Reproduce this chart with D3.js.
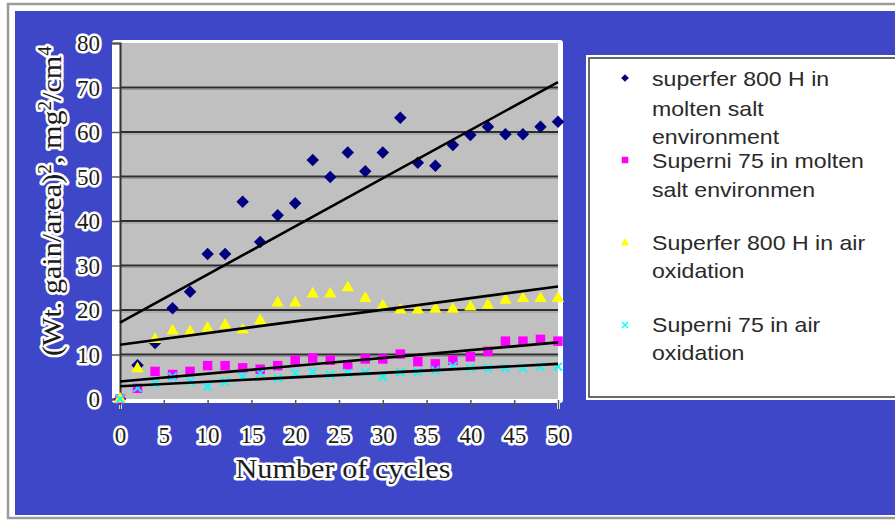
<!DOCTYPE html>
<html>
<head>
<meta charset="utf-8">
<script src="https://cdn.jsdelivr.net/npm/d3@7"></script>
<style>
	html, body { margin: 0; padding: 0; background: #fff; }
	svg { display: block; }
</style>
</head>
<body>
<div id="chart"></div>
<script>
// cycles measured (every 2 cycles)
const cycles = [0, 2, 4, 6, 8, 10, 12, 14, 16, 18, 20, 22, 24, 26, 28, 30, 32, 34, 36, 38, 40, 42, 44, 46, 48, 50];

// (Wt. gain/area)^2 values
const superferSalt = [0, 7.6, 12.6, 20.4, 24.1, 32.6, 32.6, 44.3, 35.3, 41.3, 44.0, 53.7, 49.9, 55.4, 51.2, 55.4, 63.2, 53.1, 52.4, 57.1, 59.3, 61.2, 59.5, 59.5, 61.2, 62.3];
const superniSalt = [0, 2.4, 6.2, 5.5, 6.2, 7.5, 7.5, 7.0, 6.7, 7.5, 8.7, 9.2, 8.7, 7.7, 9.0, 9.0, 10.1, 8.4, 7.9, 8.7, 9.5, 10.7, 13.0, 13.0, 13.4, 13.0];
const superferAir = [0, 6.8, 13.4, 15.3, 15.1, 15.9, 16.6, 15.5, 17.6, 21.6, 21.6, 23.6, 23.6, 25.0, 22.6, 20.9, 20.0, 20.0, 20.2, 20.2, 20.7, 21.1, 22.2, 22.6, 22.6, 22.6];
const superniAir = [0, 2.5, 3.5, 5.0, 4.0, 2.8, 3.9, 5.0, 5.8, 4.7, 5.8, 6.1, 5.4, 5.8, 6.0, 5.0, 6.0, 6.1, 6.5, 7.4, 7.0, 6.9, 7.0, 7.0, 7.3, 7.3];

const yTicks = [0, 10, 20, 30, 40, 50, 60, 70, 80];
const xTicks = [0, 5, 10, 15, 20, 25, 30, 35, 40, 45, 50];

const legendLabels = [
	['superfer 800 H in', 'molten salt', 'environment'],
	['Superni 75 in molten', 'salt environmen'],
	['Superfer 800 H in air', 'oxidation'],
	['Superni 75 in air', 'oxidation']
];

(function() {
	const width = 895;
	const height = 521;
	const serif = '"Liberation Serif", "Times New Roman", serif';
	const sans = '"Liberation Sans", Arial, sans-serif';

	const svg = d3.select('#chart')
		.append('svg')
		.attr('width', width)
		.attr('height', height);

	// outer frame + blue background
	svg.append('rect')
		.attr('x', 8).attr('y', 4)
		.attr('width', 900).attr('height', 514)
		.attr('fill', '#fff')
		.attr('stroke', '#9a9a9a')
		.attr('stroke-width', 2.5);
	svg.append('rect')
		.attr('x', 15).attr('y', 11)
		.attr('width', 890).attr('height', 504)
		.attr('fill', '#3f47c9');

	const x = d3.scaleLinear().domain([0, 50]).range([120, 558]);
	const y = d3.scaleLinear().domain([0, 80]).range([399, 43]);

	/**
	 * white halo text style
	 */
	function halo(sel, size) {
		sel.attr('font-family', serif)
			.attr('font-size', size)
			.attr('fill', '#1c1c1c')
			.attr('stroke', '#fff')
			.attr('stroke-width', 5)
			.attr('stroke-linejoin', 'round')
			.attr('paint-order', 'stroke');
	}

	/**
	 * widen text a little (the picture is slightly stretched horizontally)
	 */
	function stretch(sel, k) {
		sel.each(function() {
			const w = this.getComputedTextLength();
			d3.select(this)
				.attr('textLength', w * k)
				.attr('lengthAdjust', 'spacingAndGlyphs');
		});
	}

	// plot area
	svg.append('rect')
		.attr('x', 112).attr('y', 40)
		.attr('width', 451).attr('height', 363)
		.attr('rx', 3)
		.attr('fill', '#fff');
	svg.append('rect')
		.attr('x', x(0)).attr('y', y(80))
		.attr('width', x(50) - x(0)).attr('height', y(0) - y(80) + 1)
		.attr('fill', '#c0c0c0');

	// gridlines
	const grid = svg.append('g').attr('class', 'grid');
	grid.selectAll('line.dark')
		.data(yTicks.filter(d => d > 0 && d < 80))
		.enter().append('line')
		.attr('class', 'dark')
		.attr('x1', x(0)).attr('x2', x(50))
		.attr('y1', d => y(d)).attr('y2', d => y(d))
		.attr('stroke', '#2e2e2e')
		.attr('stroke-width', 2.2);
	grid.selectAll('line.light')
		.data(yTicks.filter(d => d > 0 && d < 80))
		.enter().append('line')
		.attr('class', 'light')
		.attr('x1', x(0)).attr('x2', x(50))
		.attr('y1', d => y(d) + 2).attr('y2', d => y(d) + 2)
		.attr('stroke', '#9a9a9a')
		.attr('stroke-width', 1);

	// axes
	const yAxis = svg.append('g')
		.attr('transform', `translate(${x(0)},0)`)
		.call(d3.axisLeft(y).tickValues(yTicks).tickSize(8).tickPadding(12));
	yAxis.select('.domain').attr('stroke', '#333').attr('stroke-width', 2);
	yAxis.selectAll('.tick line').attr('stroke', '#555').attr('stroke-width', 1.5);
	yAxis.selectAll('.tick text')
		.call(halo, 23)
		.attr('dy', '0.34em');

	const xAxis = svg.append('g')
		.attr('transform', `translate(0,${y(0) + 1})`)
		.call(d3.axisBottom(x).tickValues(xTicks).tickSize(9).tickPadding(0));
	xAxis.select('.domain').attr('stroke', '#fff').attr('stroke-width', 3);
	xAxis.selectAll('.tick line').attr('stroke', '#555').attr('stroke-width', 1.5);
	xAxis.selectAll('.tick text')
		.call(halo, 23)
		.attr('y', 43)
		.attr('dy', 0);

	// axis titles
	svg.append('text')
		.attr('x', 343)
		.attr('y', 478)
		.attr('text-anchor', 'middle')
		.call(halo, 27)
		.text('Number of cycles')
		.call(stretch, 1.12);

	const yTitle = svg.append('text')
		.attr('transform', 'translate(61,201) rotate(-90)')
		.attr('text-anchor', 'middle')
		.call(halo, 28);
	yTitle.append('tspan').text('(Wt. gain/area)');
	yTitle.append('tspan').attr('dy', -10).attr('font-size', 18).text('2');
	yTitle.append('tspan').attr('dy', 10).text(', mg');
	yTitle.append('tspan').attr('dy', -10).attr('font-size', 18).text('2');
	yTitle.append('tspan').attr('dy', 10).text('/cm');
	yTitle.append('tspan').attr('dy', -10).attr('font-size', 18).text('4');
	yTitle.attr('textLength', 310).attr('lengthAdjust', 'spacingAndGlyphs');

	// markers
	const diamond = d3.symbol().type(d3.symbolSquare).size(78)();
	const square = d3.symbol().type(d3.symbolSquare).size(90)();
	const triangle = d3.symbol().type(d3.symbolTriangle).size(66)();
	const cross = 'M-4,-4L4,4M-4,4L4,-4';

	const series = [
		{values: superferSalt, path: diamond, rotate: 45, fill: '#000080', stroke: 'none'},
		{values: superniSalt, path: square, rotate: 0, fill: '#ff00ff', stroke: 'none'},
		{values: superferAir, path: triangle, rotate: 0, fill: '#ffff00', stroke: 'none'},
		{values: superniAir, path: cross, rotate: 0, fill: 'none', stroke: '#00ffff'}
	];

	series.forEach(s => {
		svg.append('g')
			.selectAll('path')
			.data(cycles.map((c, i) => [c, s.values[i]]))
			.enter().append('path')
			.attr('d', s.path)
			.attr('transform', d => `translate(${x(d[0])},${y(d[1])}) rotate(${s.rotate})`)
			.attr('fill', s.fill)
			.attr('stroke', s.stroke)
			.attr('stroke-width', 1.8);
	});

	// linear trendlines
	series.forEach(s => {
		const mx = d3.mean(cycles);
		const my = d3.mean(s.values);
		const sxy = d3.sum(cycles, (c, i) => (c - mx) * (s.values[i] - my));
		const sxx = d3.sum(cycles, c => (c - mx) * (c - mx));
		const b = sxy / sxx;
		const a = my - b * mx;
		svg.append('line')
			.attr('x1', x(0)).attr('y1', y(a))
			.attr('x2', x(50)).attr('y2', y(a + b * 50))
			.attr('stroke', '#000')
			.attr('stroke-width', 2.6);
	});

	// legend
	svg.append('rect')
		.attr('x', 586).attr('y', 55)
		.attr('width', 320).attr('height', 345)
		.attr('fill', '#fff');
	svg.append('rect')
		.attr('x', 589).attr('y', 58)
		.attr('width', 320).attr('height', 339)
		.attr('fill', '#fff')
		.attr('stroke', '#444')
		.attr('stroke-width', 1.6);

	const legendMarkY = [78, 160, 243, 325];
	const legendLineY = [[86, 116, 144], [168, 197], [250, 278], [332, 360]];
	const legendMarks = [
		{path: d3.symbol().type(d3.symbolSquare).size(30)(), rotate: 45, fill: '#000080', stroke: 'none'},
		{path: d3.symbol().type(d3.symbolSquare).size(42)(), rotate: 0, fill: '#ff00ff', stroke: 'none'},
		{path: d3.symbol().type(d3.symbolTriangle).size(30)(), rotate: 0, fill: '#ffff00', stroke: 'none'},
		{path: 'M-3,-3L3,3M-3,3L3,-3', rotate: 0, fill: 'none', stroke: '#00ffff'}
	];

	legendLabels.forEach((lines, i) => {
		const m = legendMarks[i];
		svg.append('path')
			.attr('d', m.path)
			.attr('transform', `translate(625,${legendMarkY[i]}) rotate(${m.rotate})`)
			.attr('fill', m.fill)
			.attr('stroke', m.stroke)
			.attr('stroke-width', 1.4);

		lines.forEach((t, j) => {
			svg.append('text')
				.attr('x', 652)
				.attr('y', legendLineY[i][j])
				.attr('font-family', sans)
				.attr('font-size', 21)
				.attr('fill', '#2a2a2a')
				.text(t)
				.call(stretch, 1.1);
		});
	});
}());
</script>
</body>
</html>
